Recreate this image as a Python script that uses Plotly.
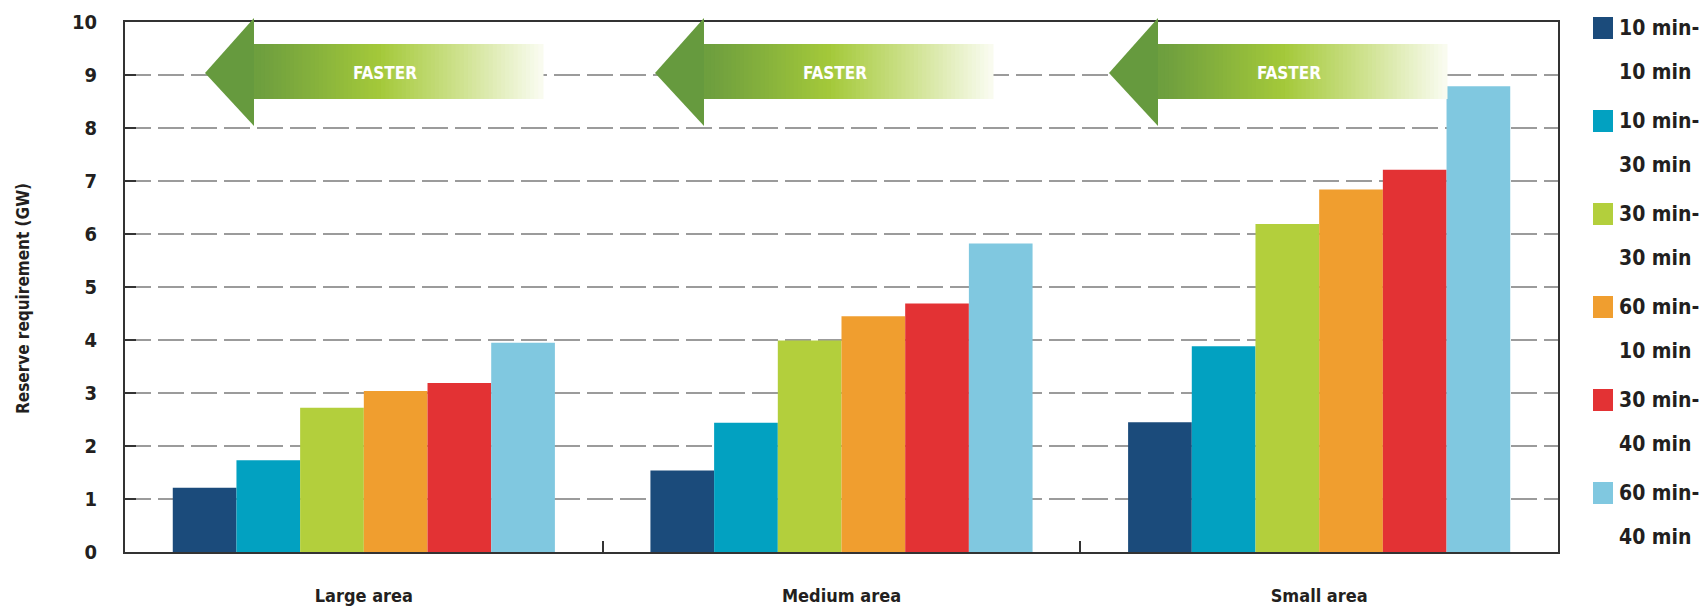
import plotly.graph_objects as go

# ---------------- data ----------------
categories = ["Large area", "Medium area", "Small area"]
series_names = ["10 min-10 min", "10 min-30 min", "30 min-30 min",
                "60 min-10 min", "30 min-40 min", "60 min-40 min"]
legend_line1 = ["10 min-", "10 min-", "30 min-", "60 min-", "30 min-", "60 min-"]
legend_line2 = ["10 min", "30 min", "30 min", "10 min", "40 min", "40 min"]
s_10_10 = [1.21, 1.54, 2.45]
s_10_30 = [1.73, 2.44, 3.88]
s_30_30 = [2.72, 3.99, 6.19]
s_60_10 = [3.04, 4.45, 6.84]
s_30_40 = [3.19, 4.69, 7.21]
s_60_40 = [3.95, 5.82, 8.79]
series_values = [s_10_10, s_10_30, s_30_30, s_60_10, s_30_40, s_60_40]
colors = ["#1b4b7b", "#02a1c1", "#b3cf3c", "#f09e2f", "#e33234", "#80c8e0"]
y_ticks = [0, 1, 2, 3, 4, 5, 6, 7, 8, 9, 10]
y_title = "Reserve requirement (GW)"
arrow_label = "FASTER"

# ---------------- layout geometry ----------------
W, H = 1705, 615
L, R, T, B = 125, 147, 22, 63
PW, PH = W - L - R, H - T - B

FONT = "DejaVu Sans Condensed, Liberation Sans, Arial, sans-serif"
TXT = "#231f20"


def px(xp):
    return (xp - L) / PW


def py(yp):
    return (H - B - yp) / PH


fig = go.Figure()
for name, vals, col in zip(series_names, series_values, colors):
    fig.add_trace(go.Bar(x=categories, y=vals, name=name, marker_color=col,
                         marker_line_width=0, showlegend=False))

shapes = []
annotations = []

# ---------------- FASTER arrows ----------------
def lerp(c1, c2, t):
    return tuple(int(round(a + (b - a) * t)) for a, b in zip(c1, c2))

stops = [(0.0, (98, 152, 62)), (0.18, (112, 160, 62)), (0.52, (164, 201, 58)),
         (0.75, (205, 225, 140)), (1.0, (250, 252, 242))]


def grad(t):
    for (t0, c0), (t1, c1) in zip(stops[:-1], stops[1:]):
        if t <= t1:
            return lerp(c0, c1, (t - t0) / (t1 - t0))
    return stops[-1][1]


arrow_tips = [205, 655, 1109]
for tip in arrow_tips:
    tip_y, head_top, head_bot = 73, 18, 126
    body_top, body_bot = 44, 99
    base = tip + 48
    end = tip + 338
    n = 70
    step = (end - base) / n
    for i in range(n):
        x0 = base + i * step
        t = (x0 + step / 2 - tip) / (end - tip)
        r, g, b = grad(t)
        shapes.append(dict(type="rect", xref="paper", yref="paper",
                           x0=px(x0 - 0.5), x1=px(x0 + step + 0.5),
                           y0=py(body_bot), y1=py(body_top),
                           fillcolor=f"rgb({r},{g},{b})", line_width=0, layer="above"))
    # head
    shapes.append(dict(type="path", xref="paper", yref="paper",
                       path=(f"M {px(tip)} {py(tip_y)} L {px(base + 1)} {py(head_top)} "
                             f"L {px(base + 1)} {py(head_bot)} Z"),
                       fillcolor="rgb(102,154,62)", line_width=0, layer="above"))
    annotations.append(dict(x=px(tip + 180), y=py(tip_y), xref="paper", yref="paper",
                            xanchor="center", yanchor="middle",
                            text=arrow_label, showarrow=False,
                            font=dict(family=FONT, size=17, color="white", weight="bold")))

# ---------------- manual legend ----------------
for i, (l1, l2, col) in enumerate(zip(legend_line1, legend_line2, colors)):
    cy = 28 + 93 * i
    shapes.append(dict(type="rect", xref="paper", yref="paper",
                       x0=px(1593), x1=px(1613), y0=py(cy + 11), y1=py(cy - 11),
                       fillcolor=col, line_width=0))
    for txt, yy in ((l1, cy), (l2, cy + 44)):
        annotations.append(dict(x=px(1617), y=py(yy), xref="paper", yref="paper",
                                text=txt, showarrow=False, xanchor="left", yanchor="middle",
                                font=dict(family=FONT, size=21, color=TXT, weight="bold")))

# ---------------- y-axis title ----------------
annotations.append(dict(x=px(23), y=py(299), xref="paper", yref="paper",
                        text=y_title, textangle=-90, showarrow=False,
                        xanchor="center", yanchor="middle",
                        font=dict(family=FONT, size=17, color=TXT, weight="bold")))

fig.update_layout(
    width=W, height=H,
    margin=dict(l=L, r=R, t=T, b=B, autoexpand=False),
    paper_bgcolor="white", plot_bgcolor="white",
    barmode="group", bargap=0.2, bargroupgap=0,
    shapes=shapes, annotations=annotations,
    font=dict(family=FONT, color=TXT),
)
fig.update_xaxes(
    type="category", showline=True, linecolor="#333333", linewidth=2, mirror=True,
    ticks="inside", tickson="boundaries", ticklen=11, tickwidth=2, tickcolor="#333333",
    tickfont=dict(family=FONT, size=18, color=TXT, weight="bold"), ticklabelstandoff=26,
    showgrid=False,
)
fig.update_yaxes(
    range=[0, 10], tickvals=y_ticks, showline=True, linecolor="#333333", linewidth=2,
    mirror=True, ticks="inside", ticklen=11, tickwidth=2, tickcolor="#333333",
    tickfont=dict(family=FONT, size=20, color=TXT, weight="bold"), ticklabelstandoff=22,
    showgrid=True, gridcolor="#9b9b9b", gridwidth=2, griddash="26px,7px",
    zeroline=False,
)

fig.write_html("out.html")
